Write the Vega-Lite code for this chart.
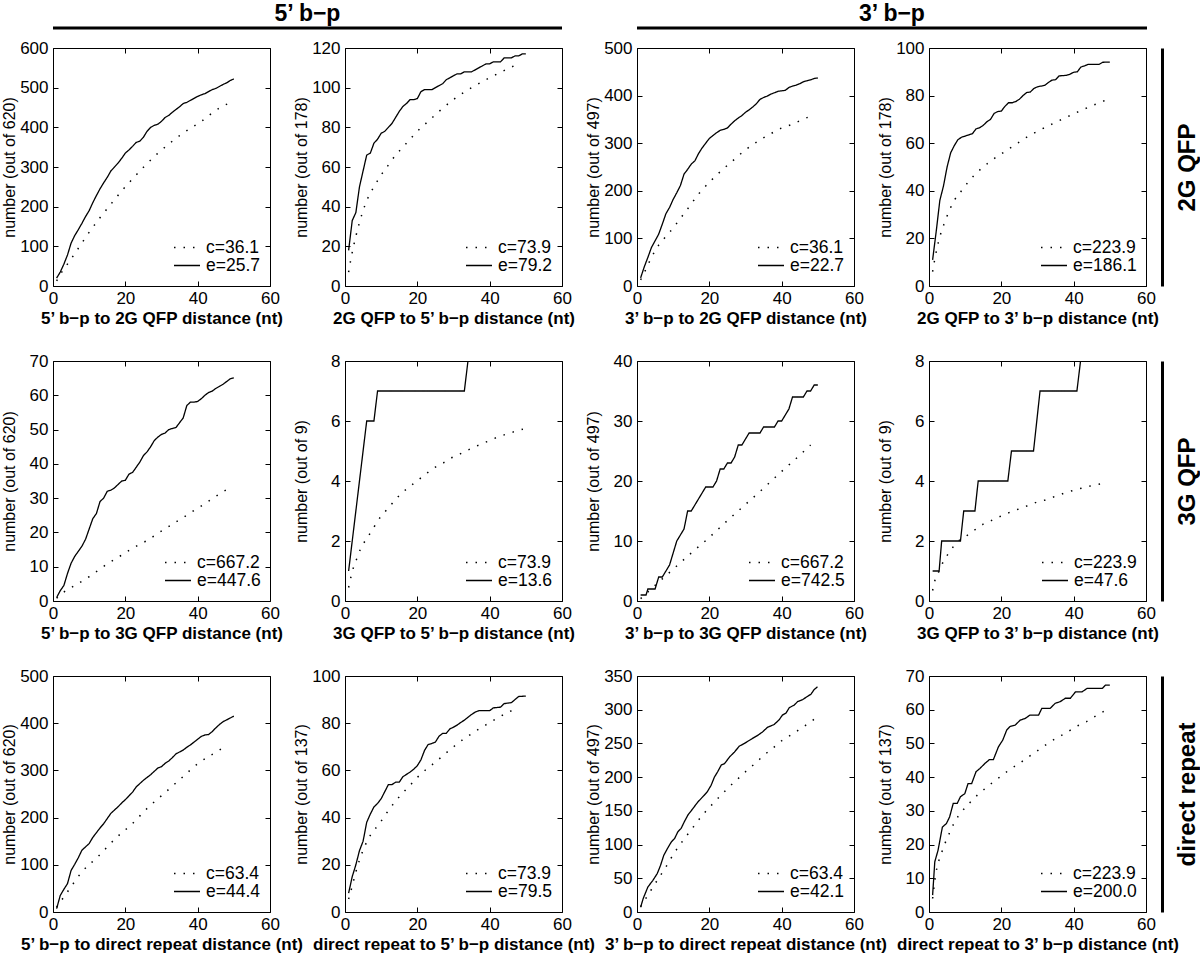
{"$schema":"https://vega.github.io/schema/vega-lite/v6.json","background":"white","padding":0,"autosize":{"type":"pad"},
"config":{"font":"Liberation Sans","view":{"stroke":"black","strokeWidth":1},
"axis":{"domain":false,"grid":false,"ticks":true,"tickSize":-5,"tickColor":"black","tickWidth":1,"labelFont":"Liberation Sans","labelFontSize":17,"labelColor":"black","titleFont":"Liberation Sans","titleColor":"black","labelOverlap":false,"labelFlush":false},
"axisX":{"labelPadding":9,"titleFontSize":17,"titleFontWeight":"bold"},
"axisY":{"labelPadding":10,"titleFontSize":16,"titleFontWeight":"normal"},
"axisLeft":{"titleX":-36,"titleBaseline":"bottom"},
"axisBottom":{"titleY":24,"titleBaseline":"top"},
"legend":{"orient":"bottom-right","offset":9,"padding":0,"symbolType":"stroke","symbolSize":676,"symbolStrokeWidth":1.4,"symbolStrokeColor":"black","labelFont":"Liberation Sans","labelFontSize":17.5,"labelColor":"black","labelOffset":5,"rowPadding":0,"clipHeight":15,"labelLimit":300,"titleOrient":"bottom","titleFontSize":1,"titlePadding":2}},
"datasets":{
"p1":[{"s":"c=36.1","x":1,"y":13},{"s":"c=36.1","x":2.5,"y":36},{"s":"c=36.1","x":4.3,"y":59},{"s":"c=36.1","x":5.9,"y":80},{"s":"c=36.1","x":7.6,"y":103},{"s":"c=36.1","x":9.2,"y":125},{"s":"c=36.1","x":12.8,"y":170},{"s":"c=36.1","x":16.6,"y":213},{"s":"c=36.1","x":19.5,"y":245},{"s":"c=36.1","x":22.5,"y":275},{"s":"c=36.1","x":25.6,"y":305},{"s":"c=36.1","x":28.8,"y":333},{"s":"c=36.1","x":32.3,"y":360},{"s":"c=36.1","x":35.9,"y":385},{"s":"c=36.1","x":41,"y":415},{"s":"c=36.1","x":46.4,"y":451},{"s":"c=36.1","x":48.5,"y":460},
{"s":"e=25.7","x":1,"y":20},{"s":"e=25.7","x":2,"y":35},{"s":"e=25.7","x":3,"y":55},{"s":"e=25.7","x":4,"y":78},{"s":"e=25.7","x":5,"y":108},{"s":"e=25.7","x":6,"y":127},{"s":"e=25.7","x":7,"y":142},{"s":"e=25.7","x":8,"y":158},{"s":"e=25.7","x":9,"y":175},{"s":"e=25.7","x":10,"y":190},{"s":"e=25.7","x":11,"y":210},{"s":"e=25.7","x":12,"y":228},{"s":"e=25.7","x":13,"y":245},{"s":"e=25.7","x":14,"y":260},{"s":"e=25.7","x":15,"y":274},{"s":"e=25.7","x":16,"y":290},{"s":"e=25.7","x":17,"y":300},{"s":"e=25.7","x":18,"y":310},{"s":"e=25.7","x":19,"y":322},{"s":"e=25.7","x":20,"y":335},{"s":"e=25.7","x":21,"y":343},{"s":"e=25.7","x":22,"y":352},{"s":"e=25.7","x":23,"y":362},{"s":"e=25.7","x":24,"y":365},{"s":"e=25.7","x":25,"y":375},{"s":"e=25.7","x":26,"y":390},{"s":"e=25.7","x":27,"y":400},{"s":"e=25.7","x":28,"y":405},{"s":"e=25.7","x":29,"y":408},{"s":"e=25.7","x":30,"y":415},{"s":"e=25.7","x":31,"y":425},{"s":"e=25.7","x":32,"y":430},{"s":"e=25.7","x":33,"y":438},{"s":"e=25.7","x":34,"y":445},{"s":"e=25.7","x":35,"y":452},{"s":"e=25.7","x":36,"y":460},{"s":"e=25.7","x":37,"y":463},{"s":"e=25.7","x":38,"y":468},{"s":"e=25.7","x":39,"y":473},{"s":"e=25.7","x":40,"y":478},{"s":"e=25.7","x":41,"y":482},{"s":"e=25.7","x":42,"y":485},{"s":"e=25.7","x":43,"y":490},{"s":"e=25.7","x":44,"y":495},{"s":"e=25.7","x":45,"y":498},{"s":"e=25.7","x":46,"y":503},{"s":"e=25.7","x":47,"y":508},{"s":"e=25.7","x":48,"y":512},{"s":"e=25.7","x":49,"y":518},{"s":"e=25.7","x":50,"y":522}],
"p2":[{"s":"c=73.9","x":1,"y":7},{"s":"c=73.9","x":2,"y":17},{"s":"c=73.9","x":3,"y":25},{"s":"c=73.9","x":4,"y":32},{"s":"c=73.9","x":5,"y":38},{"s":"c=73.9","x":6,"y":43},{"s":"c=73.9","x":8,"y":50},{"s":"c=73.9","x":10,"y":56},{"s":"c=73.9","x":12,"y":61},{"s":"c=73.9","x":14,"y":66},{"s":"c=73.9","x":16,"y":70},{"s":"c=73.9","x":18,"y":74},{"s":"c=73.9","x":20,"y":78},{"s":"c=73.9","x":23,"y":83},{"s":"c=73.9","x":26,"y":88},{"s":"c=73.9","x":30,"y":94},{"s":"c=73.9","x":35,"y":100},{"s":"c=73.9","x":40,"y":105},{"s":"c=73.9","x":45,"y":109.5},{"s":"c=73.9","x":48,"y":112},
{"s":"e=79.2","x":1,"y":18},{"s":"e=79.2","x":2,"y":33},{"s":"e=79.2","x":3,"y":37},{"s":"e=79.2","x":4,"y":50},{"s":"e=79.2","x":5,"y":58},{"s":"e=79.2","x":6,"y":66},{"s":"e=79.2","x":7,"y":67},{"s":"e=79.2","x":8,"y":72},{"s":"e=79.2","x":9,"y":74},{"s":"e=79.2","x":10,"y":77},{"s":"e=79.2","x":11,"y":78},{"s":"e=79.2","x":12,"y":80},{"s":"e=79.2","x":13,"y":82},{"s":"e=79.2","x":14,"y":85},{"s":"e=79.2","x":15,"y":88},{"s":"e=79.2","x":16,"y":90.5},{"s":"e=79.2","x":17,"y":92},{"s":"e=79.2","x":18,"y":94},{"s":"e=79.2","x":19,"y":94},{"s":"e=79.2","x":20,"y":94.5},{"s":"e=79.2","x":21,"y":98},{"s":"e=79.2","x":22,"y":99},{"s":"e=79.2","x":24,"y":99},{"s":"e=79.2","x":25,"y":100},{"s":"e=79.2","x":26,"y":101},{"s":"e=79.2","x":27,"y":102},{"s":"e=79.2","x":28,"y":104},{"s":"e=79.2","x":29,"y":105},{"s":"e=79.2","x":30,"y":106},{"s":"e=79.2","x":31,"y":107},{"s":"e=79.2","x":32,"y":107},{"s":"e=79.2","x":33,"y":108},{"s":"e=79.2","x":35,"y":108},{"s":"e=79.2","x":36,"y":109},{"s":"e=79.2","x":37,"y":110},{"s":"e=79.2","x":38,"y":111},{"s":"e=79.2","x":39,"y":112},{"s":"e=79.2","x":40,"y":112},{"s":"e=79.2","x":41,"y":113},{"s":"e=79.2","x":43,"y":113},{"s":"e=79.2","x":44,"y":115},{"s":"e=79.2","x":46,"y":115},{"s":"e=79.2","x":47,"y":116},{"s":"e=79.2","x":48,"y":116},{"s":"e=79.2","x":49,"y":117},{"s":"e=79.2","x":50,"y":117}],
"p3":[{"s":"c=36.1","x":1,"y":13},{"s":"c=36.1","x":2,"y":28},{"s":"c=36.1","x":3,"y":44},{"s":"c=36.1","x":4,"y":60},{"s":"c=36.1","x":6,"y":86},{"s":"c=36.1","x":8,"y":104},{"s":"c=36.1","x":10,"y":122},{"s":"c=36.1","x":12,"y":142},{"s":"c=36.1","x":14,"y":162},{"s":"c=36.1","x":17,"y":193},{"s":"c=36.1","x":20,"y":218},{"s":"c=36.1","x":23,"y":240},{"s":"c=36.1","x":26,"y":260},{"s":"c=36.1","x":30,"y":286},{"s":"c=36.1","x":34,"y":307},{"s":"c=36.1","x":37,"y":320},{"s":"c=36.1","x":40,"y":332},{"s":"c=36.1","x":43,"y":340},{"s":"c=36.1","x":45,"y":347},{"s":"c=36.1","x":48,"y":357},
{"s":"e=22.7","x":1,"y":17},{"s":"e=22.7","x":2,"y":40},{"s":"e=22.7","x":3,"y":60},{"s":"e=22.7","x":4,"y":81},{"s":"e=22.7","x":5,"y":95},{"s":"e=22.7","x":6,"y":109},{"s":"e=22.7","x":7,"y":130},{"s":"e=22.7","x":8,"y":152},{"s":"e=22.7","x":9,"y":165},{"s":"e=22.7","x":10,"y":182},{"s":"e=22.7","x":11,"y":196},{"s":"e=22.7","x":12,"y":211},{"s":"e=22.7","x":13,"y":235},{"s":"e=22.7","x":14,"y":245},{"s":"e=22.7","x":15,"y":256},{"s":"e=22.7","x":16,"y":263},{"s":"e=22.7","x":17,"y":278},{"s":"e=22.7","x":18,"y":290},{"s":"e=22.7","x":19,"y":300},{"s":"e=22.7","x":20,"y":310},{"s":"e=22.7","x":21,"y":316},{"s":"e=22.7","x":22,"y":322},{"s":"e=22.7","x":23,"y":327},{"s":"e=22.7","x":24,"y":329},{"s":"e=22.7","x":25,"y":332},{"s":"e=22.7","x":26,"y":340},{"s":"e=22.7","x":27,"y":347},{"s":"e=22.7","x":28,"y":353},{"s":"e=22.7","x":29,"y":358},{"s":"e=22.7","x":30,"y":365},{"s":"e=22.7","x":31,"y":370},{"s":"e=22.7","x":32,"y":376},{"s":"e=22.7","x":33,"y":383},{"s":"e=22.7","x":34,"y":392},{"s":"e=22.7","x":35,"y":396},{"s":"e=22.7","x":36,"y":399},{"s":"e=22.7","x":37,"y":403},{"s":"e=22.7","x":38,"y":406},{"s":"e=22.7","x":39,"y":409},{"s":"e=22.7","x":40,"y":410},{"s":"e=22.7","x":41,"y":411},{"s":"e=22.7","x":42,"y":417},{"s":"e=22.7","x":43,"y":420},{"s":"e=22.7","x":44,"y":422},{"s":"e=22.7","x":45,"y":425},{"s":"e=22.7","x":46,"y":429},{"s":"e=22.7","x":47,"y":431},{"s":"e=22.7","x":48,"y":433},{"s":"e=22.7","x":49,"y":436},{"s":"e=22.7","x":50,"y":437}],
"p4":[{"s":"c=223.9","x":1,"y":6},{"s":"c=223.9","x":1.5,"y":10.5},{"s":"c=223.9","x":2.7,"y":19},{"s":"c=223.9","x":4.4,"y":27},{"s":"c=223.9","x":5.7,"y":32},{"s":"c=223.9","x":7,"y":36},{"s":"c=223.9","x":9,"y":40},{"s":"c=223.9","x":11,"y":44},{"s":"c=223.9","x":13,"y":47.3},{"s":"c=223.9","x":15,"y":50},{"s":"c=223.9","x":17.5,"y":53},{"s":"c=223.9","x":20,"y":55.5},{"s":"c=223.9","x":22.5,"y":58},{"s":"c=223.9","x":25,"y":60.5},{"s":"c=223.9","x":27.5,"y":63},{"s":"c=223.9","x":30,"y":65},{"s":"c=223.9","x":33,"y":67.3},{"s":"c=223.9","x":36,"y":69.5},{"s":"c=223.9","x":39,"y":71.6},{"s":"c=223.9","x":42,"y":73.7},{"s":"c=223.9","x":45,"y":75.7},{"s":"c=223.9","x":48,"y":77.5},{"s":"c=223.9","x":49,"y":78.2},
{"s":"e=186.1","x":1,"y":11},{"s":"e=186.1","x":2,"y":23},{"s":"e=186.1","x":3,"y":36},{"s":"e=186.1","x":4,"y":42},{"s":"e=186.1","x":5,"y":50},{"s":"e=186.1","x":6,"y":56},{"s":"e=186.1","x":7,"y":59},{"s":"e=186.1","x":8,"y":61.5},{"s":"e=186.1","x":9,"y":62.5},{"s":"e=186.1","x":10,"y":63},{"s":"e=186.1","x":11,"y":63.5},{"s":"e=186.1","x":12,"y":64},{"s":"e=186.1","x":13,"y":66},{"s":"e=186.1","x":14,"y":66.5},{"s":"e=186.1","x":15,"y":67.5},{"s":"e=186.1","x":16,"y":69},{"s":"e=186.1","x":17,"y":70},{"s":"e=186.1","x":18,"y":72.5},{"s":"e=186.1","x":19,"y":73.3},{"s":"e=186.1","x":20,"y":73.5},{"s":"e=186.1","x":21,"y":75.5},{"s":"e=186.1","x":22,"y":77},{"s":"e=186.1","x":23,"y":77},{"s":"e=186.1","x":24,"y":77.5},{"s":"e=186.1","x":25,"y":78.5},{"s":"e=186.1","x":26,"y":80},{"s":"e=186.1","x":27,"y":81.3},{"s":"e=186.1","x":28,"y":81.5},{"s":"e=186.1","x":29,"y":83},{"s":"e=186.1","x":30,"y":83.7},{"s":"e=186.1","x":31,"y":84},{"s":"e=186.1","x":32,"y":84.3},{"s":"e=186.1","x":33,"y":85.5},{"s":"e=186.1","x":34,"y":86.5},{"s":"e=186.1","x":35,"y":86.7},{"s":"e=186.1","x":36,"y":88.3},{"s":"e=186.1","x":38,"y":88.5},{"s":"e=186.1","x":39,"y":89},{"s":"e=186.1","x":40,"y":89.8},{"s":"e=186.1","x":41,"y":90},{"s":"e=186.1","x":42,"y":92},{"s":"e=186.1","x":43,"y":92.5},{"s":"e=186.1","x":44,"y":93.1},{"s":"e=186.1","x":47,"y":93.1},{"s":"e=186.1","x":48,"y":94},{"s":"e=186.1","x":50,"y":94.1}],
"p5":[{"s":"c=667.2","x":1,"y":0.8},{"s":"c=667.2","x":3,"y":2.6},{"s":"c=667.2","x":6,"y":4.5},{"s":"c=667.2","x":8.5,"y":6.1},{"s":"c=667.2","x":11,"y":7.8},{"s":"c=667.2","x":13.6,"y":9.8},{"s":"c=667.2","x":16.2,"y":11.6},{"s":"c=667.2","x":18.7,"y":13.2},{"s":"c=667.2","x":21.1,"y":14.8},{"s":"c=667.2","x":23.7,"y":16.4},{"s":"c=667.2","x":26.3,"y":17.8},{"s":"c=667.2","x":28.8,"y":19.6},{"s":"c=667.2","x":31.4,"y":21.3},{"s":"c=667.2","x":33.9,"y":23},{"s":"c=667.2","x":36.5,"y":24.7},{"s":"c=667.2","x":39,"y":26.4},{"s":"c=667.2","x":41.6,"y":28.1},{"s":"c=667.2","x":44,"y":29.8},{"s":"c=667.2","x":46.6,"y":31.6},{"s":"c=667.2","x":49.1,"y":33.2},
{"s":"e=447.6","x":1,"y":1},{"s":"e=447.6","x":2,"y":3},{"s":"e=447.6","x":3,"y":4.5},{"s":"e=447.6","x":4,"y":8},{"s":"e=447.6","x":5,"y":11},{"s":"e=447.6","x":6,"y":13},{"s":"e=447.6","x":7,"y":14.5},{"s":"e=447.6","x":8,"y":16},{"s":"e=447.6","x":9,"y":18},{"s":"e=447.6","x":10,"y":21},{"s":"e=447.6","x":11,"y":24},{"s":"e=447.6","x":12,"y":25.5},{"s":"e=447.6","x":13,"y":29},{"s":"e=447.6","x":14,"y":30},{"s":"e=447.6","x":15,"y":32},{"s":"e=447.6","x":16,"y":32.3},{"s":"e=447.6","x":17,"y":33},{"s":"e=447.6","x":18,"y":34},{"s":"e=447.6","x":19,"y":35},{"s":"e=447.6","x":20,"y":35.2},{"s":"e=447.6","x":21,"y":37},{"s":"e=447.6","x":22,"y":37.5},{"s":"e=447.6","x":23,"y":39},{"s":"e=447.6","x":24,"y":40.5},{"s":"e=447.6","x":25,"y":42.4},{"s":"e=447.6","x":26,"y":43.5},{"s":"e=447.6","x":27,"y":45},{"s":"e=447.6","x":28,"y":46.8},{"s":"e=447.6","x":29,"y":47.8},{"s":"e=447.6","x":30,"y":48.6},{"s":"e=447.6","x":31,"y":49},{"s":"e=447.6","x":32,"y":50},{"s":"e=447.6","x":33,"y":50.3},{"s":"e=447.6","x":34,"y":50.6},{"s":"e=447.6","x":35,"y":52},{"s":"e=447.6","x":36,"y":53.4},{"s":"e=447.6","x":37,"y":57},{"s":"e=447.6","x":38,"y":58},{"s":"e=447.6","x":39,"y":58},{"s":"e=447.6","x":40,"y":58.2},{"s":"e=447.6","x":41,"y":59},{"s":"e=447.6","x":42,"y":60},{"s":"e=447.6","x":43,"y":60.8},{"s":"e=447.6","x":44,"y":61.2},{"s":"e=447.6","x":45,"y":62},{"s":"e=447.6","x":46,"y":62.6},{"s":"e=447.6","x":47,"y":63.2},{"s":"e=447.6","x":48,"y":64},{"s":"e=447.6","x":49,"y":64.8},{"s":"e=447.6","x":50,"y":65.1}],
"p6":[{"s":"c=73.9","x":1,"y":0.45},{"s":"c=73.9","x":1.6,"y":0.78},{"s":"c=73.9","x":2.5,"y":1.18},{"s":"c=73.9","x":3.4,"y":1.45},{"s":"c=73.9","x":4.3,"y":1.74},{"s":"c=73.9","x":6,"y":2.08},{"s":"c=73.9","x":7.6,"y":2.38},{"s":"c=73.9","x":9.2,"y":2.7},{"s":"c=73.9","x":11.1,"y":2.98},{"s":"c=73.9","x":13.1,"y":3.26},{"s":"c=73.9","x":15.2,"y":3.54},{"s":"c=73.9","x":17.3,"y":3.76},{"s":"c=73.9","x":19.8,"y":3.99},{"s":"c=73.9","x":22.1,"y":4.21},{"s":"c=73.9","x":24.7,"y":4.44},{"s":"c=73.9","x":27.3,"y":4.61},{"s":"c=73.9","x":29.9,"y":4.8},{"s":"c=73.9","x":32.5,"y":4.94},{"s":"c=73.9","x":35.3,"y":5.11},{"s":"c=73.9","x":38.1,"y":5.25},{"s":"c=73.9","x":40.9,"y":5.4},{"s":"c=73.9","x":43.6,"y":5.52},{"s":"c=73.9","x":46.4,"y":5.63},{"s":"c=73.9","x":49.2,"y":5.73},
{"s":"e=13.6","x":1,"y":1},{"s":"e=13.6","x":6,"y":6},{"s":"e=13.6","x":8,"y":6},{"s":"e=13.6","x":9,"y":7},{"s":"e=13.6","x":33,"y":7},{"s":"e=13.6","x":34,"y":8},{"s":"e=13.6","x":35,"y":9},{"s":"e=13.6","x":50,"y":9}],
"p7":[{"s":"c=667.2","x":1,"y":0.4},{"s":"c=667.2","x":5,"y":2.6},{"s":"c=667.2","x":10,"y":5.3},{"s":"c=667.2","x":15,"y":8},{"s":"c=667.2","x":20,"y":10.6},{"s":"c=667.2","x":25,"y":13.4},{"s":"c=667.2","x":30,"y":16.1},{"s":"c=667.2","x":35,"y":18.8},{"s":"c=667.2","x":40,"y":21.6},{"s":"c=667.2","x":45,"y":24.3},{"s":"c=667.2","x":48,"y":26},
{"s":"e=742.5","x":1,"y":1},{"s":"e=742.5","x":2.5,"y":1},{"s":"e=742.5","x":3,"y":2},{"s":"e=742.5","x":5,"y":2},{"s":"e=742.5","x":5.5,"y":3},{"s":"e=742.5","x":6,"y":4},{"s":"e=742.5","x":7,"y":4},{"s":"e=742.5","x":8,"y":5},{"s":"e=742.5","x":9,"y":6},{"s":"e=742.5","x":10,"y":8},{"s":"e=742.5","x":11,"y":10},{"s":"e=742.5","x":12,"y":11},{"s":"e=742.5","x":13,"y":12},{"s":"e=742.5","x":14,"y":15},{"s":"e=742.5","x":15,"y":15},{"s":"e=742.5","x":16,"y":16},{"s":"e=742.5","x":17,"y":17},{"s":"e=742.5","x":18,"y":18},{"s":"e=742.5","x":19,"y":19},{"s":"e=742.5","x":21,"y":19},{"s":"e=742.5","x":22,"y":20},{"s":"e=742.5","x":23,"y":22},{"s":"e=742.5","x":24,"y":22},{"s":"e=742.5","x":25,"y":23},{"s":"e=742.5","x":26,"y":23},{"s":"e=742.5","x":27,"y":24},{"s":"e=742.5","x":28,"y":26},{"s":"e=742.5","x":29,"y":26},{"s":"e=742.5","x":30,"y":27},{"s":"e=742.5","x":31,"y":28},{"s":"e=742.5","x":34,"y":28},{"s":"e=742.5","x":35,"y":29},{"s":"e=742.5","x":38,"y":29},{"s":"e=742.5","x":39,"y":30},{"s":"e=742.5","x":40,"y":30},{"s":"e=742.5","x":41,"y":31},{"s":"e=742.5","x":42,"y":32},{"s":"e=742.5","x":43,"y":34},{"s":"e=742.5","x":46,"y":34},{"s":"e=742.5","x":47,"y":35},{"s":"e=742.5","x":48,"y":35},{"s":"e=742.5","x":49,"y":36},{"s":"e=742.5","x":50,"y":36}],
"p8":[{"s":"c=223.9","x":1,"y":0.35},{"s":"c=223.9","x":1.6,"y":0.67},{"s":"c=223.9","x":2.8,"y":1},{"s":"c=223.9","x":4.1,"y":1.35},{"s":"c=223.9","x":5.8,"y":1.65},{"s":"c=223.9","x":7.6,"y":1.95},{"s":"c=223.9","x":9.9,"y":2.13},{"s":"c=223.9","x":12.2,"y":2.33},{"s":"c=223.9","x":15,"y":2.56},{"s":"c=223.9","x":17.6,"y":2.7},{"s":"c=223.9","x":20.6,"y":2.87},{"s":"c=223.9","x":23.3,"y":3},{"s":"c=223.9","x":26.1,"y":3.12},{"s":"c=223.9","x":28.9,"y":3.26},{"s":"c=223.9","x":31.7,"y":3.35},{"s":"c=223.9","x":34.7,"y":3.48},{"s":"c=223.9","x":37.5,"y":3.6},{"s":"c=223.9","x":40.3,"y":3.7},{"s":"c=223.9","x":43.2,"y":3.79},{"s":"c=223.9","x":46.3,"y":3.88},{"s":"c=223.9","x":49.3,"y":3.93},
{"s":"e=47.6","x":1,"y":1},{"s":"e=47.6","x":2.8,"y":1},{"s":"e=47.6","x":3.5,"y":2},{"s":"e=47.6","x":8.7,"y":2},{"s":"e=47.6","x":9.6,"y":3},{"s":"e=47.6","x":12.7,"y":3},{"s":"e=47.6","x":13.6,"y":4},{"s":"e=47.6","x":21.8,"y":4},{"s":"e=47.6","x":22.8,"y":5},{"s":"e=47.6","x":28.9,"y":5},{"s":"e=47.6","x":30.7,"y":7},{"s":"e=47.6","x":40.9,"y":7},{"s":"e=47.6","x":41.9,"y":8},{"s":"e=47.6","x":42.9,"y":9},{"s":"e=47.6","x":50,"y":9}],
"p9":[{"s":"c=63.4","x":1,"y":10},{"s":"c=63.4","x":4.3,"y":46},{"s":"c=63.4","x":8,"y":85},{"s":"c=63.4","x":12.4,"y":117},{"s":"c=63.4","x":17.3,"y":156},{"s":"c=63.4","x":21.9,"y":187},{"s":"c=63.4","x":26.5,"y":223},{"s":"c=63.4","x":30.7,"y":251},{"s":"c=63.4","x":35.7,"y":285},{"s":"c=63.4","x":40.3,"y":316},{"s":"c=63.4","x":45.4,"y":340},{"s":"c=63.4","x":48.2,"y":354},
{"s":"e=44.4","x":1,"y":7},{"s":"e=44.4","x":2,"y":35},{"s":"e=44.4","x":3,"y":48},{"s":"e=44.4","x":4,"y":60},{"s":"e=44.4","x":5,"y":88},{"s":"e=44.4","x":6,"y":101},{"s":"e=44.4","x":7,"y":115},{"s":"e=44.4","x":8,"y":131},{"s":"e=44.4","x":9,"y":138},{"s":"e=44.4","x":10,"y":145},{"s":"e=44.4","x":11,"y":158},{"s":"e=44.4","x":12,"y":168},{"s":"e=44.4","x":13,"y":178},{"s":"e=44.4","x":14,"y":187},{"s":"e=44.4","x":15,"y":198},{"s":"e=44.4","x":16,"y":209},{"s":"e=44.4","x":17,"y":216},{"s":"e=44.4","x":18,"y":223},{"s":"e=44.4","x":19,"y":231},{"s":"e=44.4","x":20,"y":238},{"s":"e=44.4","x":21,"y":246},{"s":"e=44.4","x":22,"y":254},{"s":"e=44.4","x":23,"y":265},{"s":"e=44.4","x":24,"y":272},{"s":"e=44.4","x":25,"y":279},{"s":"e=44.4","x":26,"y":285},{"s":"e=44.4","x":27,"y":291},{"s":"e=44.4","x":28,"y":298},{"s":"e=44.4","x":29,"y":305},{"s":"e=44.4","x":30,"y":308},{"s":"e=44.4","x":31,"y":315},{"s":"e=44.4","x":32,"y":320},{"s":"e=44.4","x":33,"y":327},{"s":"e=44.4","x":34,"y":335},{"s":"e=44.4","x":35,"y":339},{"s":"e=44.4","x":36,"y":343},{"s":"e=44.4","x":37,"y":349},{"s":"e=44.4","x":38,"y":354},{"s":"e=44.4","x":39,"y":360},{"s":"e=44.4","x":40,"y":366},{"s":"e=44.4","x":41,"y":372},{"s":"e=44.4","x":42,"y":375},{"s":"e=44.4","x":43,"y":376},{"s":"e=44.4","x":44,"y":382},{"s":"e=44.4","x":45,"y":390},{"s":"e=44.4","x":46,"y":397},{"s":"e=44.4","x":47,"y":403},{"s":"e=44.4","x":48,"y":407},{"s":"e=44.4","x":49,"y":411},{"s":"e=44.4","x":50,"y":415}],
"p10":[{"s":"c=73.9","x":1,"y":5.5},{"s":"c=73.9","x":2,"y":11},{"s":"c=73.9","x":3,"y":17},{"s":"c=73.9","x":4,"y":22},{"s":"c=73.9","x":5.5,"y":28},{"s":"c=73.9","x":7,"y":32.5},{"s":"c=73.9","x":9,"y":36.5},{"s":"c=73.9","x":10.5,"y":39.6},{"s":"c=73.9","x":12,"y":43},{"s":"c=73.9","x":14,"y":47},{"s":"c=73.9","x":16,"y":50.5},{"s":"c=73.9","x":18,"y":53.7},{"s":"c=73.9","x":20,"y":57},{"s":"c=73.9","x":22.5,"y":60.5},{"s":"c=73.9","x":25,"y":63.5},{"s":"c=73.9","x":27.5,"y":66.8},{"s":"c=73.9","x":30,"y":70},{"s":"c=73.9","x":32.5,"y":73},{"s":"c=73.9","x":35,"y":75.5},{"s":"c=73.9","x":37.5,"y":78},{"s":"c=73.9","x":40,"y":80.2},{"s":"c=73.9","x":42.5,"y":82.5},{"s":"c=73.9","x":45,"y":84.5},{"s":"c=73.9","x":48,"y":86.7},
{"s":"e=79.5","x":1,"y":8},{"s":"e=79.5","x":2,"y":15},{"s":"e=79.5","x":3,"y":20},{"s":"e=79.5","x":4,"y":26},{"s":"e=79.5","x":5,"y":30},{"s":"e=79.5","x":6,"y":38},{"s":"e=79.5","x":7,"y":41.5},{"s":"e=79.5","x":8,"y":44.5},{"s":"e=79.5","x":9,"y":46},{"s":"e=79.5","x":10,"y":48},{"s":"e=79.5","x":11,"y":51},{"s":"e=79.5","x":12,"y":54},{"s":"e=79.5","x":13,"y":54},{"s":"e=79.5","x":14,"y":55},{"s":"e=79.5","x":15,"y":55},{"s":"e=79.5","x":16,"y":57.3},{"s":"e=79.5","x":17,"y":58.3},{"s":"e=79.5","x":18,"y":59.3},{"s":"e=79.5","x":19,"y":60.5},{"s":"e=79.5","x":20,"y":62},{"s":"e=79.5","x":21,"y":64.5},{"s":"e=79.5","x":22,"y":68.5},{"s":"e=79.5","x":23,"y":71},{"s":"e=79.5","x":24,"y":71.4},{"s":"e=79.5","x":25,"y":72},{"s":"e=79.5","x":26,"y":74.5},{"s":"e=79.5","x":27,"y":75.7},{"s":"e=79.5","x":28,"y":75.7},{"s":"e=79.5","x":29,"y":77.6},{"s":"e=79.5","x":30,"y":78.3},{"s":"e=79.5","x":31,"y":79.2},{"s":"e=79.5","x":32,"y":80.3},{"s":"e=79.5","x":33,"y":81.3},{"s":"e=79.5","x":34,"y":82.5},{"s":"e=79.5","x":35,"y":83.7},{"s":"e=79.5","x":36,"y":84.7},{"s":"e=79.5","x":37,"y":85.3},{"s":"e=79.5","x":40,"y":85.3},{"s":"e=79.5","x":41,"y":86.5},{"s":"e=79.5","x":43,"y":86.8},{"s":"e=79.5","x":44,"y":88.3},{"s":"e=79.5","x":46,"y":88.7},{"s":"e=79.5","x":47,"y":90},{"s":"e=79.5","x":48,"y":91.3},{"s":"e=79.5","x":50,"y":91.5}],
"p11":[{"s":"c=63.4","x":1,"y":8},{"s":"c=63.4","x":3,"y":25},{"s":"c=63.4","x":5,"y":42},{"s":"c=63.4","x":8,"y":67},{"s":"c=63.4","x":10,"y":85},{"s":"c=63.4","x":13,"y":108},{"s":"c=63.4","x":15,"y":122},{"s":"c=63.4","x":18,"y":143},{"s":"c=63.4","x":20,"y":155},{"s":"c=63.4","x":23,"y":172},{"s":"c=63.4","x":25,"y":183},{"s":"c=63.4","x":28,"y":198},{"s":"c=63.4","x":30,"y":208},{"s":"c=63.4","x":33,"y":222},{"s":"c=63.4","x":35,"y":232},{"s":"c=63.4","x":38,"y":245},{"s":"c=63.4","x":40,"y":254},{"s":"c=63.4","x":43,"y":264},{"s":"c=63.4","x":45,"y":271},{"s":"c=63.4","x":48,"y":282},{"s":"c=63.4","x":49,"y":286},
{"s":"e=42.1","x":1,"y":7},{"s":"e=42.1","x":1.7,"y":19.8},{"s":"e=42.1","x":3,"y":37},{"s":"e=42.1","x":4.4,"y":47},{"s":"e=42.1","x":5.6,"y":57},{"s":"e=42.1","x":6.5,"y":69},{"s":"e=42.1","x":7.4,"y":84},{"s":"e=42.1","x":8.4,"y":94},{"s":"e=42.1","x":9.5,"y":104},{"s":"e=42.1","x":10.4,"y":109},{"s":"e=42.1","x":11.3,"y":119},{"s":"e=42.1","x":12.2,"y":124},{"s":"e=42.1","x":13.1,"y":134},{"s":"e=42.1","x":14.1,"y":144},{"s":"e=42.1","x":15.4,"y":153},{"s":"e=42.1","x":16.8,"y":163},{"s":"e=42.1","x":18.2,"y":171},{"s":"e=42.1","x":19.4,"y":178},{"s":"e=42.1","x":20.5,"y":188},{"s":"e=42.1","x":21.4,"y":200},{"s":"e=42.1","x":22.3,"y":208},{"s":"e=42.1","x":23.3,"y":218},{"s":"e=42.1","x":24.2,"y":220},{"s":"e=42.1","x":25.6,"y":230},{"s":"e=42.1","x":26.9,"y":237},{"s":"e=42.1","x":28.3,"y":246},{"s":"e=42.1","x":29.7,"y":250},{"s":"e=42.1","x":31.5,"y":256},{"s":"e=42.1","x":33.4,"y":262},{"s":"e=42.1","x":34.7,"y":267},{"s":"e=42.1","x":36.1,"y":274},{"s":"e=42.1","x":37.9,"y":278},{"s":"e=42.1","x":39.3,"y":285},{"s":"e=42.1","x":40.2,"y":292},{"s":"e=42.1","x":41.2,"y":295},{"s":"e=42.1","x":42.1,"y":303},{"s":"e=42.1","x":43.5,"y":307},{"s":"e=42.1","x":44.4,"y":312},{"s":"e=42.1","x":45.8,"y":315},{"s":"e=42.1","x":47.2,"y":320},{"s":"e=42.1","x":48.1,"y":323},{"s":"e=42.1","x":49,"y":330},{"s":"e=42.1","x":49.9,"y":334}],
"p12":[{"s":"c=223.9","x":1,"y":4},{"s":"c=223.9","x":1.9,"y":11.4},{"s":"c=223.9","x":3.4,"y":17.3},{"s":"c=223.9","x":4.4,"y":20.3},{"s":"c=223.9","x":5.6,"y":23.3},{"s":"c=223.9","x":7.1,"y":26.7},{"s":"c=223.9","x":9,"y":29.7},{"s":"c=223.9","x":11.1,"y":32.2},{"s":"c=223.9","x":13.1,"y":34.4},{"s":"c=223.9","x":15.5,"y":36.6},{"s":"c=223.9","x":17.8,"y":38.6},{"s":"c=223.9","x":20.3,"y":40.6},{"s":"c=223.9","x":22.4,"y":42.3},{"s":"c=223.9","x":25,"y":44.1},{"s":"c=223.9","x":27.5,"y":46},{"s":"c=223.9","x":29.8,"y":47.7},{"s":"c=223.9","x":32.6,"y":49.8},{"s":"c=223.9","x":35.1,"y":51.5},{"s":"c=223.9","x":38,"y":53.2},{"s":"c=223.9","x":40.7,"y":55},{"s":"c=223.9","x":43.5,"y":56.4},{"s":"c=223.9","x":46.5,"y":58.4},{"s":"c=223.9","x":49.3,"y":60.1},
{"s":"e=200.0","x":1,"y":5},{"s":"e=200.0","x":1.6,"y":14.9},{"s":"e=200.0","x":2.5,"y":18.3},{"s":"e=200.0","x":3.7,"y":25.2},{"s":"e=200.0","x":4.8,"y":26.2},{"s":"e=200.0","x":5.7,"y":28.2},{"s":"e=200.0","x":6.7,"y":32.2},{"s":"e=200.0","x":7.8,"y":32.2},{"s":"e=200.0","x":8.7,"y":34.2},{"s":"e=200.0","x":9.9,"y":35.1},{"s":"e=200.0","x":10.8,"y":38.1},{"s":"e=200.0","x":11.8,"y":38.1},{"s":"e=200.0","x":13,"y":41.6},{"s":"e=200.0","x":14.1,"y":42.6},{"s":"e=200.0","x":15.5,"y":44.1},{"s":"e=200.0","x":16.7,"y":45.2},{"s":"e=200.0","x":17.8,"y":45.2},{"s":"e=200.0","x":19.2,"y":49},{"s":"e=200.0","x":20.4,"y":51},{"s":"e=200.0","x":21.5,"y":54},{"s":"e=200.0","x":22.4,"y":55},{"s":"e=200.0","x":23.8,"y":55.4},{"s":"e=200.0","x":25.2,"y":56.9},{"s":"e=200.0","x":26.6,"y":57.4},{"s":"e=200.0","x":27.9,"y":58.4},{"s":"e=200.0","x":30.3,"y":58.4},{"s":"e=200.0","x":31.2,"y":60.4},{"s":"e=200.0","x":33.5,"y":60.4},{"s":"e=200.0","x":34.9,"y":61.9},{"s":"e=200.0","x":36.3,"y":62.4},{"s":"e=200.0","x":37.7,"y":63.4},{"s":"e=200.0","x":39.1,"y":63.4},{"s":"e=200.0","x":40.5,"y":65.3},{"s":"e=200.0","x":42.3,"y":65.3},{"s":"e=200.0","x":43.7,"y":66.3},{"s":"e=200.0","x":47.9,"y":66.3},{"s":"e=200.0","x":48.8,"y":67.3},{"s":"e=200.0","x":50,"y":67.3}]
},
"vconcat":[
{"hconcat":[
{"width":509,"height":28,"view":{"stroke":null},"data":{"values":[{"label":"5’ b−p"}]},
"encoding":{"y":{"datum":0,"type":"quantitative","scale":{"domain":[0,1]},"axis":{"title":" ","labels":false,"ticks":false,"domain":false}}},
"layer":[
{"mark":{"type":"rule","strokeWidth":3,"color":"black"},"encoding":{"x":{"datum":0,"type":"quantitative","scale":{"domain":[0,1]},"axis":null},"x2":{"datum":1}}},
{"mark":{"type":"text","fontSize":23,"fontWeight":"bold","align":"center","baseline":"alphabetic","color":"black","font":"Liberation Sans"},"encoding":{"text":{"field":"label"},"x":{"datum":0.5,"type":"quantitative","scale":{"domain":[0,1]},"axis":null},"y":{"datum":0.25,"type":"quantitative","scale":{"domain":[0,1]},"axis":{"title":" ","labels":false,"ticks":false,"domain":false}}}}]},
{"width":510,"height":28,"view":{"stroke":null},"data":{"values":[{"label":"3’ b−p"}]},
"encoding":{"y":{"datum":0,"type":"quantitative","scale":{"domain":[0,1]},"axis":null}},
"layer":[
{"mark":{"type":"rule","strokeWidth":3,"color":"black"},"encoding":{"x":{"datum":0,"type":"quantitative","scale":{"domain":[0,1]},"axis":null},"x2":{"datum":1}}},
{"mark":{"type":"text","fontSize":23,"fontWeight":"bold","align":"center","baseline":"alphabetic","color":"black","font":"Liberation Sans"},"encoding":{"text":{"field":"label"},"x":{"datum":0.5,"type":"quantitative","scale":{"domain":[0,1]},"axis":null},"y":{"datum":0.25,"type":"quantitative","scale":{"domain":[0,1]},"axis":null}}}]}
],"spacing":75,"bounds":"flush"},
{"concat":[
{"width":217,"height":238,"data":{"name":"p1"},"encoding":{"strokeDash":{"field":"s","type":"nominal","scale":{"range":[[1.5,8],[1,0]]},"legend":{"title":" "}}},"layer":[
{"transform":[{"filter":"indexof(datum.s,'c')==0"}],"mark":{"type":"line","interpolate":"monotone","clip":true,"color":"black","strokeWidth":1.5},"encoding":{"x":{"field":"x","type":"quantitative","scale":{"domain":[0,60],"nice":false,"zero":false},"axis":{"values":[0,20,40,60],"title":"5’ b−p to 2G QFP distance (nt)"}},"y":{"field":"y","type":"quantitative","scale":{"domain":[0,600],"nice":false,"zero":false},"axis":{"values":[0,100,200,300,400,500,600],"title":"number (out of 620)"}}}},
{"transform":[{"filter":"indexof(datum.s,'e')==0"}],"mark":{"type":"line","clip":true,"color":"black","strokeWidth":1.3},"encoding":{"x":{"field":"x","type":"quantitative","scale":{"domain":[0,60],"nice":false,"zero":false},"axis":{"orient":"top","values":[0,20,40,60],"labels":false,"title":null}},"y":{"field":"y","type":"quantitative","scale":{"domain":[0,600],"nice":false,"zero":false},"axis":{"orient":"right","values":[0,100,200,300,400,500,600],"labels":false,"title":null}}}}],"resolve":{"axis":{"x":"independent","y":"independent"}}},
{"width":217,"height":238,"data":{"name":"p2"},"encoding":{"strokeDash":{"field":"s","type":"nominal","scale":{"range":[[1.5,8],[1,0]]},"legend":{"title":" "}}},"layer":[
{"transform":[{"filter":"indexof(datum.s,'c')==0"}],"mark":{"type":"line","interpolate":"monotone","clip":true,"color":"black","strokeWidth":1.5},"encoding":{"x":{"field":"x","type":"quantitative","scale":{"domain":[0,60],"nice":false,"zero":false},"axis":{"values":[0,20,40,60],"title":"2G QFP to 5’ b−p distance (nt)"}},"y":{"field":"y","type":"quantitative","scale":{"domain":[0,120],"nice":false,"zero":false},"axis":{"values":[0,20,40,60,80,100,120],"title":"number (out of 178)"}}}},
{"transform":[{"filter":"indexof(datum.s,'e')==0"}],"mark":{"type":"line","clip":true,"color":"black","strokeWidth":1.3},"encoding":{"x":{"field":"x","type":"quantitative","scale":{"domain":[0,60],"nice":false,"zero":false},"axis":{"orient":"top","values":[0,20,40,60],"labels":false,"title":null}},"y":{"field":"y","type":"quantitative","scale":{"domain":[0,120],"nice":false,"zero":false},"axis":{"orient":"right","values":[0,20,40,60,80,100,120],"labels":false,"title":null}}}}],"resolve":{"axis":{"x":"independent","y":"independent"}}},
{"width":217,"height":238,"data":{"name":"p3"},"encoding":{"strokeDash":{"field":"s","type":"nominal","scale":{"range":[[1.5,8],[1,0]]},"legend":{"title":" "}}},"layer":[
{"transform":[{"filter":"indexof(datum.s,'c')==0"}],"mark":{"type":"line","interpolate":"monotone","clip":true,"color":"black","strokeWidth":1.5},"encoding":{"x":{"field":"x","type":"quantitative","scale":{"domain":[0,60],"nice":false,"zero":false},"axis":{"values":[0,20,40,60],"title":"3’ b−p to 2G QFP distance (nt)"}},"y":{"field":"y","type":"quantitative","scale":{"domain":[0,500],"nice":false,"zero":false},"axis":{"values":[0,100,200,300,400,500],"title":"number (out of 497)"}}}},
{"transform":[{"filter":"indexof(datum.s,'e')==0"}],"mark":{"type":"line","clip":true,"color":"black","strokeWidth":1.3},"encoding":{"x":{"field":"x","type":"quantitative","scale":{"domain":[0,60],"nice":false,"zero":false},"axis":{"orient":"top","values":[0,20,40,60],"labels":false,"title":null}},"y":{"field":"y","type":"quantitative","scale":{"domain":[0,500],"nice":false,"zero":false},"axis":{"orient":"right","values":[0,100,200,300,400,500],"labels":false,"title":null}}}}],"resolve":{"axis":{"x":"independent","y":"independent"}}},
{"width":217,"height":238,"data":{"name":"p4"},"encoding":{"strokeDash":{"field":"s","type":"nominal","scale":{"range":[[1.5,8],[1,0]]},"legend":{"title":" "}}},"layer":[
{"transform":[{"filter":"indexof(datum.s,'c')==0"}],"mark":{"type":"line","interpolate":"monotone","clip":true,"color":"black","strokeWidth":1.5},"encoding":{"x":{"field":"x","type":"quantitative","scale":{"domain":[0,60],"nice":false,"zero":false},"axis":{"values":[0,20,40,60],"title":"2G QFP to 3’ b−p distance (nt)"}},"y":{"field":"y","type":"quantitative","scale":{"domain":[0,100],"nice":false,"zero":false},"axis":{"values":[0,20,40,60,80,100],"title":"number (out of 178)"}}}},
{"transform":[{"filter":"indexof(datum.s,'e')==0"}],"mark":{"type":"line","clip":true,"color":"black","strokeWidth":1.3},"encoding":{"x":{"field":"x","type":"quantitative","scale":{"domain":[0,60],"nice":false,"zero":false},"axis":{"orient":"top","values":[0,20,40,60],"labels":false,"title":null}},"y":{"field":"y","type":"quantitative","scale":{"domain":[0,100],"nice":false,"zero":false},"axis":{"orient":"right","values":[0,20,40,60,80,100],"labels":false,"title":null}}}},
{"transform":[{"filter":"indexof(datum.s,'e')==0"}],"mark":{"type":"line","clip":true,"opacity":0},"encoding":{"x":{"field":"x","type":"quantitative","scale":{"domain":[0,60],"nice":false,"zero":false},"axis":null},"y":{"field":"y","type":"quantitative","scale":{"domain":[0,100],"nice":false,"zero":false},"axis":{"orient":"right","offset":16,"domain":true,"domainWidth":3,"domainColor":"black","ticks":false,"labels":false,"title":"2G QFP","titleFontSize":24,"titleFontWeight":"bold","titleAngle":270,"titleX":25,"titleBaseline":"middle","titleAlign":"center"}}}}],"resolve":{"axis":{"x":"independent","y":"independent"}}},
{"width":217,"height":240,"data":{"name":"p5"},"encoding":{"strokeDash":{"field":"s","type":"nominal","scale":{"range":[[1.5,8],[1,0]]},"legend":{"title":" "}}},"layer":[
{"transform":[{"filter":"indexof(datum.s,'c')==0"}],"mark":{"type":"line","interpolate":"monotone","clip":true,"color":"black","strokeWidth":1.5},"encoding":{"x":{"field":"x","type":"quantitative","scale":{"domain":[0,60],"nice":false,"zero":false},"axis":{"values":[0,20,40,60],"title":"5’ b−p to 3G QFP distance (nt)"}},"y":{"field":"y","type":"quantitative","scale":{"domain":[0,70],"nice":false,"zero":false},"axis":{"values":[0,10,20,30,40,50,60,70],"title":"number (out of 620)"}}}},
{"transform":[{"filter":"indexof(datum.s,'e')==0"}],"mark":{"type":"line","clip":true,"color":"black","strokeWidth":1.3},"encoding":{"x":{"field":"x","type":"quantitative","scale":{"domain":[0,60],"nice":false,"zero":false},"axis":{"orient":"top","values":[0,20,40,60],"labels":false,"title":null}},"y":{"field":"y","type":"quantitative","scale":{"domain":[0,70],"nice":false,"zero":false},"axis":{"orient":"right","values":[0,10,20,30,40,50,60,70],"labels":false,"title":null}}}}],"resolve":{"axis":{"x":"independent","y":"independent"}}},
{"width":217,"height":240,"data":{"name":"p6"},"encoding":{"strokeDash":{"field":"s","type":"nominal","scale":{"range":[[1.5,8],[1,0]]},"legend":{"title":" "}}},"layer":[
{"transform":[{"filter":"indexof(datum.s,'c')==0"}],"mark":{"type":"line","interpolate":"monotone","clip":true,"color":"black","strokeWidth":1.5},"encoding":{"x":{"field":"x","type":"quantitative","scale":{"domain":[0,60],"nice":false,"zero":false},"axis":{"values":[0,20,40,60],"title":"3G QFP to 5’ b−p distance (nt)"}},"y":{"field":"y","type":"quantitative","scale":{"domain":[0,8],"nice":false,"zero":false},"axis":{"values":[0,2,4,6,8],"title":"number (out of 9)"}}}},
{"transform":[{"filter":"indexof(datum.s,'e')==0"}],"mark":{"type":"line","clip":true,"color":"black","strokeWidth":1.3},"encoding":{"x":{"field":"x","type":"quantitative","scale":{"domain":[0,60],"nice":false,"zero":false},"axis":{"orient":"top","values":[0,20,40,60],"labels":false,"title":null}},"y":{"field":"y","type":"quantitative","scale":{"domain":[0,8],"nice":false,"zero":false},"axis":{"orient":"right","values":[0,2,4,6,8],"labels":false,"title":null}}}}],"resolve":{"axis":{"x":"independent","y":"independent"}}},
{"width":217,"height":240,"data":{"name":"p7"},"encoding":{"strokeDash":{"field":"s","type":"nominal","scale":{"range":[[1.5,8],[1,0]]},"legend":{"title":" "}}},"layer":[
{"transform":[{"filter":"indexof(datum.s,'c')==0"}],"mark":{"type":"line","interpolate":"monotone","clip":true,"color":"black","strokeWidth":1.5},"encoding":{"x":{"field":"x","type":"quantitative","scale":{"domain":[0,60],"nice":false,"zero":false},"axis":{"values":[0,20,40,60],"title":"3’ b−p to 3G QFP distance (nt)"}},"y":{"field":"y","type":"quantitative","scale":{"domain":[0,40],"nice":false,"zero":false},"axis":{"values":[0,10,20,30,40],"title":"number (out of 497)"}}}},
{"transform":[{"filter":"indexof(datum.s,'e')==0"}],"mark":{"type":"line","clip":true,"color":"black","strokeWidth":1.3},"encoding":{"x":{"field":"x","type":"quantitative","scale":{"domain":[0,60],"nice":false,"zero":false},"axis":{"orient":"top","values":[0,20,40,60],"labels":false,"title":null}},"y":{"field":"y","type":"quantitative","scale":{"domain":[0,40],"nice":false,"zero":false},"axis":{"orient":"right","values":[0,10,20,30,40],"labels":false,"title":null}}}}],"resolve":{"axis":{"x":"independent","y":"independent"}}},
{"width":217,"height":240,"data":{"name":"p8"},"encoding":{"strokeDash":{"field":"s","type":"nominal","scale":{"range":[[1.5,8],[1,0]]},"legend":{"title":" "}}},"layer":[
{"transform":[{"filter":"indexof(datum.s,'c')==0"}],"mark":{"type":"line","interpolate":"monotone","clip":true,"color":"black","strokeWidth":1.5},"encoding":{"x":{"field":"x","type":"quantitative","scale":{"domain":[0,60],"nice":false,"zero":false},"axis":{"values":[0,20,40,60],"title":"3G QFP to 3’ b−p distance (nt)"}},"y":{"field":"y","type":"quantitative","scale":{"domain":[0,8],"nice":false,"zero":false},"axis":{"values":[0,2,4,6,8],"title":"number (out of 9)"}}}},
{"transform":[{"filter":"indexof(datum.s,'e')==0"}],"mark":{"type":"line","clip":true,"color":"black","strokeWidth":1.3},"encoding":{"x":{"field":"x","type":"quantitative","scale":{"domain":[0,60],"nice":false,"zero":false},"axis":{"orient":"top","values":[0,20,40,60],"labels":false,"title":null}},"y":{"field":"y","type":"quantitative","scale":{"domain":[0,8],"nice":false,"zero":false},"axis":{"orient":"right","values":[0,2,4,6,8],"labels":false,"title":null}}}},
{"transform":[{"filter":"indexof(datum.s,'e')==0"}],"mark":{"type":"line","clip":true,"opacity":0},"encoding":{"x":{"field":"x","type":"quantitative","scale":{"domain":[0,60],"nice":false,"zero":false},"axis":null},"y":{"field":"y","type":"quantitative","scale":{"domain":[0,8],"nice":false,"zero":false},"axis":{"orient":"right","offset":16,"domain":true,"domainWidth":3,"domainColor":"black","ticks":false,"labels":false,"title":"3G QFP","titleFontSize":24,"titleFontWeight":"bold","titleAngle":270,"titleX":25,"titleBaseline":"middle","titleAlign":"center"}}}}],"resolve":{"axis":{"x":"independent","y":"independent"}}},
{"width":217,"height":236,"data":{"name":"p9"},"encoding":{"strokeDash":{"field":"s","type":"nominal","scale":{"range":[[1.5,8],[1,0]]},"legend":{"title":" "}}},"layer":[
{"transform":[{"filter":"indexof(datum.s,'c')==0"}],"mark":{"type":"line","interpolate":"monotone","clip":true,"color":"black","strokeWidth":1.5},"encoding":{"x":{"field":"x","type":"quantitative","scale":{"domain":[0,60],"nice":false,"zero":false},"axis":{"values":[0,20,40,60],"title":"5’ b−p to direct repeat distance (nt)"}},"y":{"field":"y","type":"quantitative","scale":{"domain":[0,500],"nice":false,"zero":false},"axis":{"values":[0,100,200,300,400,500],"title":"number (out of 620)"}}}},
{"transform":[{"filter":"indexof(datum.s,'e')==0"}],"mark":{"type":"line","clip":true,"color":"black","strokeWidth":1.3},"encoding":{"x":{"field":"x","type":"quantitative","scale":{"domain":[0,60],"nice":false,"zero":false},"axis":{"orient":"top","values":[0,20,40,60],"labels":false,"title":null}},"y":{"field":"y","type":"quantitative","scale":{"domain":[0,500],"nice":false,"zero":false},"axis":{"orient":"right","values":[0,100,200,300,400,500],"labels":false,"title":null}}}}],"resolve":{"axis":{"x":"independent","y":"independent"}}},
{"width":217,"height":236,"data":{"name":"p10"},"encoding":{"strokeDash":{"field":"s","type":"nominal","scale":{"range":[[1.5,8],[1,0]]},"legend":{"title":" "}}},"layer":[
{"transform":[{"filter":"indexof(datum.s,'c')==0"}],"mark":{"type":"line","interpolate":"monotone","clip":true,"color":"black","strokeWidth":1.5},"encoding":{"x":{"field":"x","type":"quantitative","scale":{"domain":[0,60],"nice":false,"zero":false},"axis":{"values":[0,20,40,60],"title":"direct repeat to 5’ b−p distance (nt)"}},"y":{"field":"y","type":"quantitative","scale":{"domain":[0,100],"nice":false,"zero":false},"axis":{"values":[0,20,40,60,80,100],"title":"number (out of 137)"}}}},
{"transform":[{"filter":"indexof(datum.s,'e')==0"}],"mark":{"type":"line","clip":true,"color":"black","strokeWidth":1.3},"encoding":{"x":{"field":"x","type":"quantitative","scale":{"domain":[0,60],"nice":false,"zero":false},"axis":{"orient":"top","values":[0,20,40,60],"labels":false,"title":null}},"y":{"field":"y","type":"quantitative","scale":{"domain":[0,100],"nice":false,"zero":false},"axis":{"orient":"right","values":[0,20,40,60,80,100],"labels":false,"title":null}}}}],"resolve":{"axis":{"x":"independent","y":"independent"}}},
{"width":217,"height":236,"data":{"name":"p11"},"encoding":{"strokeDash":{"field":"s","type":"nominal","scale":{"range":[[1.5,8],[1,0]]},"legend":{"title":" "}}},"layer":[
{"transform":[{"filter":"indexof(datum.s,'c')==0"}],"mark":{"type":"line","interpolate":"monotone","clip":true,"color":"black","strokeWidth":1.5},"encoding":{"x":{"field":"x","type":"quantitative","scale":{"domain":[0,60],"nice":false,"zero":false},"axis":{"values":[0,20,40,60],"title":"3’ b−p to direct repeat distance (nt)"}},"y":{"field":"y","type":"quantitative","scale":{"domain":[0,350],"nice":false,"zero":false},"axis":{"values":[0,50,100,150,200,250,300,350],"title":"number (out of 497)"}}}},
{"transform":[{"filter":"indexof(datum.s,'e')==0"}],"mark":{"type":"line","clip":true,"color":"black","strokeWidth":1.3},"encoding":{"x":{"field":"x","type":"quantitative","scale":{"domain":[0,60],"nice":false,"zero":false},"axis":{"orient":"top","values":[0,20,40,60],"labels":false,"title":null}},"y":{"field":"y","type":"quantitative","scale":{"domain":[0,350],"nice":false,"zero":false},"axis":{"orient":"right","values":[0,50,100,150,200,250,300,350],"labels":false,"title":null}}}}],"resolve":{"axis":{"x":"independent","y":"independent"}}},
{"width":217,"height":236,"data":{"name":"p12"},"encoding":{"strokeDash":{"field":"s","type":"nominal","scale":{"range":[[1.5,8],[1,0]]},"legend":{"title":" "}}},"layer":[
{"transform":[{"filter":"indexof(datum.s,'c')==0"}],"mark":{"type":"line","interpolate":"monotone","clip":true,"color":"black","strokeWidth":1.5},"encoding":{"x":{"field":"x","type":"quantitative","scale":{"domain":[0,60],"nice":false,"zero":false},"axis":{"values":[0,20,40,60],"title":"direct repeat to 3’ b−p distance (nt)"}},"y":{"field":"y","type":"quantitative","scale":{"domain":[0,70],"nice":false,"zero":false},"axis":{"values":[0,10,20,30,40,50,60,70],"title":"number (out of 137)"}}}},
{"transform":[{"filter":"indexof(datum.s,'e')==0"}],"mark":{"type":"line","clip":true,"color":"black","strokeWidth":1.3},"encoding":{"x":{"field":"x","type":"quantitative","scale":{"domain":[0,60],"nice":false,"zero":false},"axis":{"orient":"top","values":[0,20,40,60],"labels":false,"title":null}},"y":{"field":"y","type":"quantitative","scale":{"domain":[0,70],"nice":false,"zero":false},"axis":{"orient":"right","values":[0,10,20,30,40,50,60,70],"labels":false,"title":null}}}},
{"transform":[{"filter":"indexof(datum.s,'e')==0"}],"mark":{"type":"line","clip":true,"opacity":0},"encoding":{"x":{"field":"x","type":"quantitative","scale":{"domain":[0,60],"nice":false,"zero":false},"axis":null},"y":{"field":"y","type":"quantitative","scale":{"domain":[0,70],"nice":false,"zero":false},"axis":{"orient":"right","offset":16,"domain":true,"domainWidth":3,"domainColor":"black","ticks":false,"labels":false,"title":"direct repeat","titleFontSize":24,"titleFontWeight":"bold","titleAngle":270,"titleX":25,"titleBaseline":"middle","titleAlign":"center"}}}}],"resolve":{"axis":{"x":"independent","y":"independent"}}}
],"columns":4,"spacing":{"row":75,"column":75},"bounds":"flush","resolve":{"scale":{"x":"independent","y":"independent","strokeDash":"independent"},"legend":{"strokeDash":"independent"},"axis":{"x":"independent","y":"independent"}}}
],"spacing":8,"bounds":"full","resolve":{"scale":{"x":"independent","y":"independent","strokeDash":"independent"},"legend":{"strokeDash":"independent"},"axis":{"x":"independent","y":"independent"}}}
